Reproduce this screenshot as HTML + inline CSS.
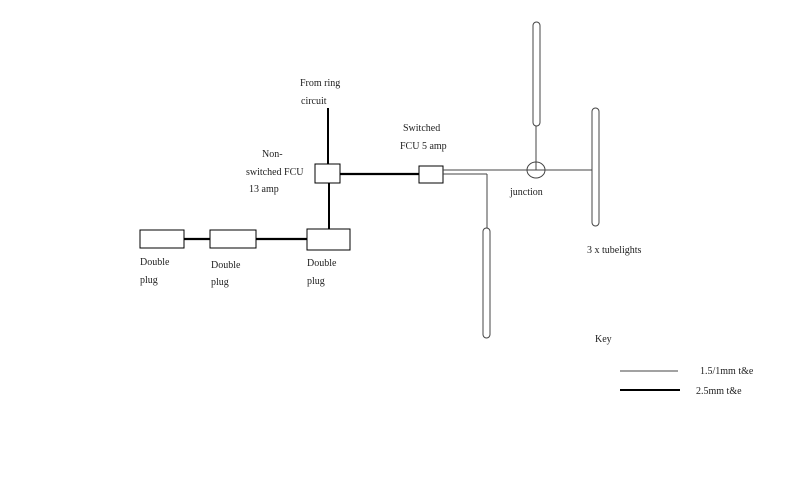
<!DOCTYPE html>
<html><head><style>body{margin:0;background:#fff}</style></head><body>
<svg width="800" height="500" xmlns="http://www.w3.org/2000/svg" style="display:block">
<g font-family="Liberation Serif, serif" font-size="10" fill="#222">
<text x="300" y="86">From ring</text>
<text x="301" y="104">circuit</text>
<text x="262" y="157">Non-</text>
<text x="246" y="175">switched FCU</text>
<text x="249" y="192">13 amp</text>
<text x="403" y="131">Switched</text>
<text x="400" y="149">FCU 5 amp</text>
<text x="140" y="265">Double</text>
<text x="140" y="283">plug</text>
<text x="211" y="268">Double</text>
<text x="211" y="285">plug</text>
<text x="307" y="266">Double</text>
<text x="307" y="284">plug</text>
<text x="510" y="195">junction</text>
<text x="587" y="253">3 x tubelights</text>
<text x="595" y="342">Key</text>
<text x="700" y="374">1.5/1mm t&amp;e</text>
<text x="696" y="394">2.5mm t&amp;e</text>
</g>
<g stroke="#000" fill="none">
<line x1="328" y1="108" x2="328" y2="164" stroke-width="2"/>
<line x1="340" y1="174" x2="420" y2="174" stroke-width="2.2"/>
<line x1="329" y1="183" x2="329" y2="229" stroke-width="2"/>
<line x1="184" y1="239" x2="210" y2="239" stroke-width="2.2"/>
<line x1="256" y1="239" x2="307" y2="239" stroke-width="2.2"/>
<rect x="315" y="164" width="25" height="19" fill="#fff" stroke-width="1"/>
<rect x="419" y="166" width="24" height="17" fill="#fff" stroke-width="1"/>
<rect x="140" y="230" width="44" height="18" fill="#fff"/>
<rect x="210" y="230" width="46" height="18" fill="#fff"/>
<rect x="307" y="229" width="43" height="21" fill="#fff"/>
<g stroke="#444" stroke-width="1">
<line x1="443" y1="170" x2="592" y2="170"/>
<line x1="443" y1="174" x2="487" y2="174"/>
<line x1="487" y1="174" x2="487" y2="228"/>
<line x1="536" y1="126" x2="536" y2="170"/>
<ellipse cx="536" cy="170" rx="9" ry="8"/>
<rect x="533" y="22" width="7" height="104" rx="3.5"/>
<rect x="592" y="108" width="7" height="118" rx="3.5"/>
<rect x="483" y="228" width="7" height="110" rx="3.5"/>
<line x1="620" y1="371" x2="678" y2="371"/>
</g>
<line x1="620" y1="390" x2="680" y2="390" stroke-width="2"/>
</g>
</svg>
</body></html>
